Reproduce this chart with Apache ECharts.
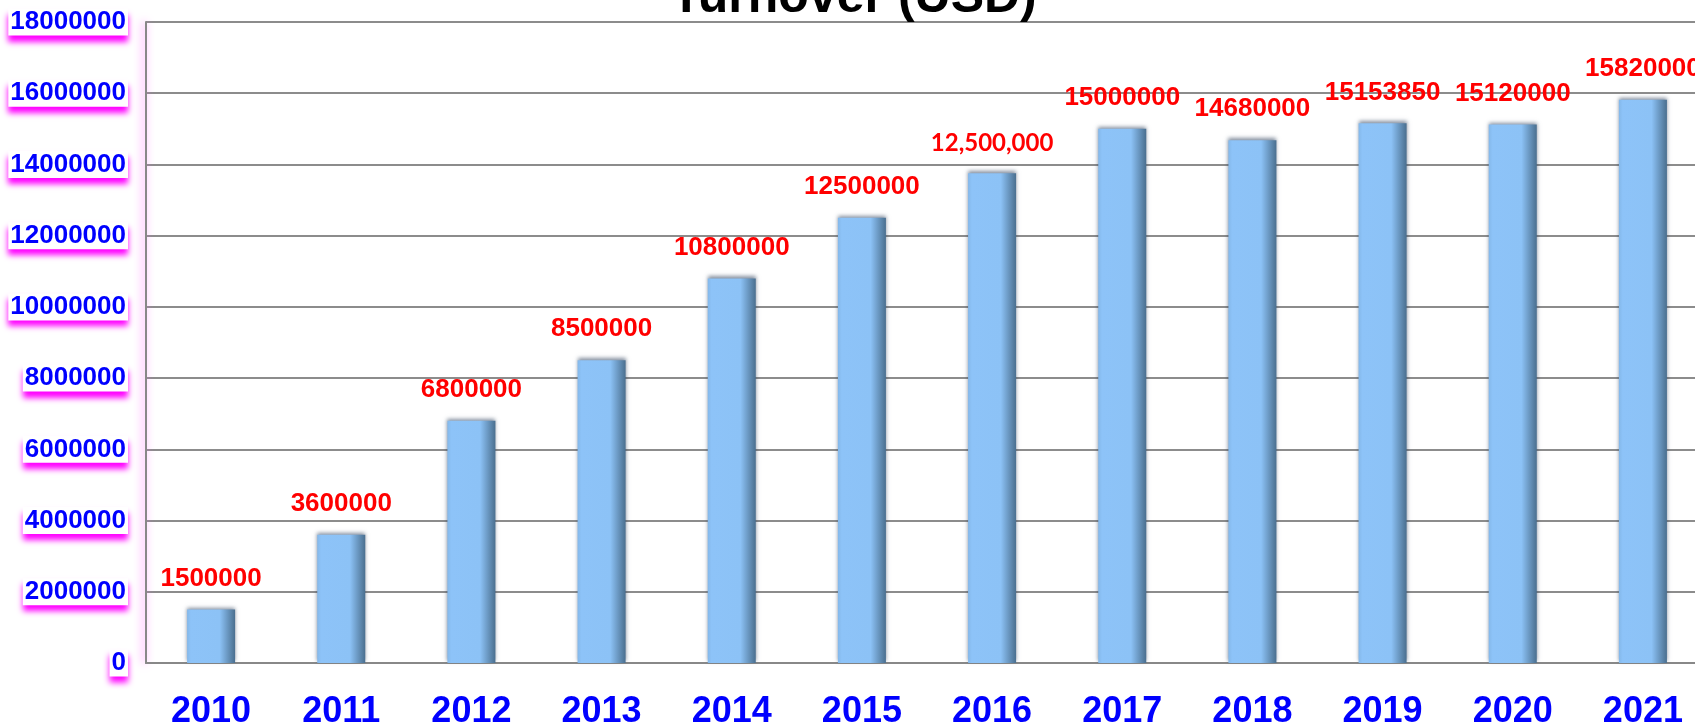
<!DOCTYPE html>
<html>
<head>
<meta charset="utf-8">
<title>Turnover (USD)</title>
<script src="https://cdn.jsdelivr.net/npm/echarts@6/dist/echarts.min.js"></script>
<style>
  html, body { margin: 0; padding: 0; background: #fff; }
  #turnover_chart { width: 1695px; height: 724px; }
</style>
</head>
<body>
<div id="turnover_chart"></div>
<script>
// data
var years = ['2010', '2011', '2012', '2013', '2014', '2015', '2016', '2017', '2018', '2019', '2020', '2021'];
var turnover = [1500000, 3600000, 6800000, 8500000, 10800000, 12500000, 13750000, 15000000, 14680000, 15153850, 15120000, 15820000];
// printed labels (2016 label differs from bar height in the original)
var labelTexts = ['1500000', '3600000', '6800000', '8500000', '10800000', '12500000', '12,500,000', '15000000', '14680000', '15153850', '15120000', '15820000'];

function draw_turnover()
{
    var chart = echarts.init(document.getElementById('turnover_chart'));
    var option = {
        animation: false,
        title: {
            text: 'Turnover (USD)',
            left: 666,
            top: -32,
            textStyle: {
                fontFamily: 'Liberation Sans',
                fontWeight: 'bold',
                fontSize: 50,
                color: '#000'
            }
        },
        grid: {
            left: 146,
            top: 22,
            width: 1562,
            bottom: 61,
            containLabel: false,
            outerBoundsMode: 'none'
        },
        xAxis: {
            type: 'category',
            data: years,
            axisTick: { show: false },
            axisLine: { lineStyle: { color: '#888', width: 2 } },
            axisLabel: {
                color: '#0000ff',
                fontFamily: 'Liberation Sans',
                fontWeight: 'bold',
                fontSize: 36,
                margin: 31
            }
        },
        yAxis: {
            type: 'value',
            min: 0,
            max: 18000000,
            interval: 2000000,
            axisLine: {
                show: true,
                lineStyle: { color: '#888', width: 2, shadowColor: '#ff66ff', shadowBlur: 8, shadowOffsetX: -2 }
            },
            axisTick: { show: false },
            splitLine: { lineStyle: { color: '#8c8c8c', width: 2 } },
            axisLabel: {
                formatter: function (v) { return String(v); },
                color: '#0000ff',
                fontFamily: 'Liberation Sans',
                fontWeight: 'bold',
                fontSize: 26,
                margin: 18,
                backgroundColor: '#fff',
                padding: [0, 2, 1, 2],
                shadowColor: '#ff00ff',
                shadowBlur: 6,
                shadowOffsetY: 6
            }
        },
        series: [
            {
                name: 'Turnover',
                type: 'bar',
                data: turnover,
                barWidth: 48,
                itemStyle: {
                    color: new echarts.graphic.LinearGradient(0, 0, 1, 0, [
                        { offset: 0, color: '#84b8ea' },
                        { offset: 0.08, color: '#8dc3f8' },
                        { offset: 0.68, color: '#8cc2f6' },
                        { offset: 1, color: '#4a6f8f' }
                    ]),
                    shadowColor: 'rgba(30, 50, 80, 0.55)',
                    shadowBlur: 4,
                    shadowOffsetY: -2
                },
                label: {
                    show: true,
                    position: 'top',
                    distance: 18,
                    formatter: function (p) {
                        var t = labelTexts[p.dataIndex];
                        return p.dataIndex === 6 ? '{c|' + t + '}' : '{a|' + t + '}';
                    },
                    rich: {
                        a: {
                            color: '#ff0000',
                            fontFamily: 'Liberation Sans',
                            fontWeight: 'bold',
                            fontSize: 26
                        },
                        c: {
                            color: '#ff0000',
                            fontFamily: 'Lato',
                            fontWeight: 'bold',
                            fontSize: 24
                        }
                    }
                }
            }
        ]
    };
    chart.setOption(option);
}

draw_turnover();
</script>
</body>
</html>
